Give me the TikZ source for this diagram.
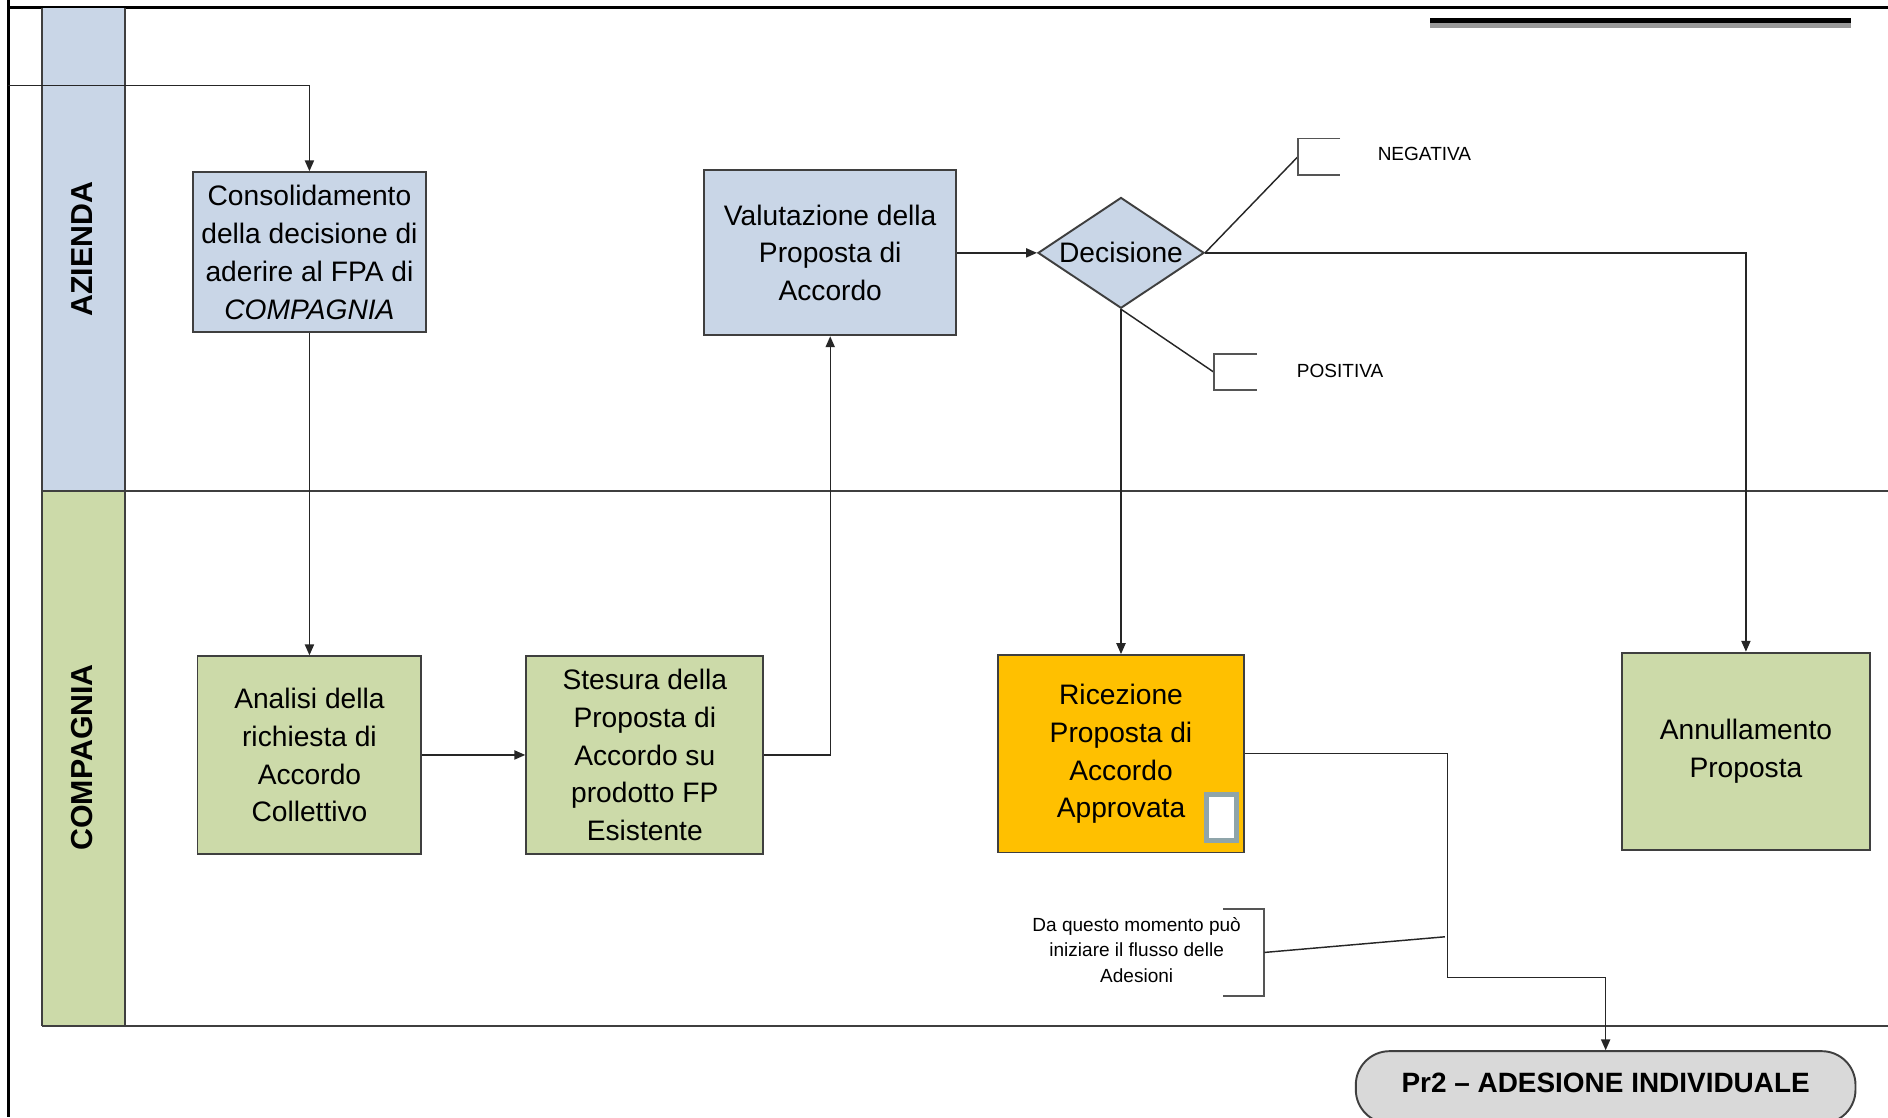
\documentclass[tikz,border=0pt]{standalone}
\usepackage{fontspec}
\setmainfont{Liberation Sans}
\usetikzlibrary{arrows.meta,shapes.geometric}
\definecolor{laneblue}{HTML}{C9D6E7}
\definecolor{lanegreen}{HTML}{CCDAA9}
\definecolor{boxorange}{HTML}{FFC000}
\definecolor{termgray}{HTML}{D9D9D9}
\definecolor{edgegray}{HTML}{3F3F3F}
\definecolor{slotgray}{HTML}{8FA5AA}
\definecolor{notegray}{HTML}{555555}
\begin{document}
\begin{tikzpicture}[x=0.5pt,y=-0.5pt,
  proc/.style={draw=edgegray,line width=0.8pt,inner sep=0pt,align=center,
    font=\fontsize{11.7}{15.75}\selectfont},
  conn/.style={draw=black!85,line width=0.6pt},
  arr/.style={conn,-{Triangle[length=4.5pt,width=3.8pt]}},
  bracket/.style={draw=notegray,line width=0.8pt},
  note/.style={font=\fontsize{7.9}{10.5}\selectfont,align=center,inner sep=0pt},
  lanelabel/.style={rotate=90,font=\bfseries\fontsize{12.6}{14}\selectfont,inner sep=0pt}]
\useasboundingbox (0,0) rectangle (1568,928);
\clip (0,0) rectangle (1568,928);
\fill[white] (0,0) rectangle (1568,928);

% outer frame
\draw[line width=1pt] (7,0) -- (7,928);
\draw[line width=1.1pt] (7,6) -- (1568,6);
% top-right bar
\fill[black] (1188,14.7) rectangle (1537,19.4);
\fill[black!40] (1188,19.4) rectangle (1537,23);

% swimlanes
\fill[laneblue] (35,7) rectangle (104,408);
\fill[lanegreen] (35,408) rectangle (104,852);
\draw[edgegray,line width=0.9pt] (35,7) -- (35,852) (104,7) -- (104,852);
\draw[edgegray,line width=0.9pt] (35,408) -- (1568,408) (35,852) -- (1568,852);
\node[lanelabel] (laneA) at (68,207) {AZIENDA};
\node[lanelabel] (laneC) at (68,629) {COMPAGNIA};

% process nodes
\node[proc,fill=laneblue,minimum width=97pt,minimum height=66.5pt] (cons) at (257,209.5)
  {Consolidamento\\della decisione di\\aderire al FPA di\\\textit{COMPAGNIA}};
\node[proc,fill=lanegreen,minimum width=93pt,minimum height=82pt] (anal) at (257,627)
  {Analisi della\\richiesta di\\Accordo\\Collettivo};
\node[proc,fill=lanegreen,minimum width=98.5pt,minimum height=82pt] (stes) at (535.5,627)
  {Stesura della\\Proposta di\\Accordo su\\prodotto FP\\Esistente};
\node[proc,fill=laneblue,minimum width=104.5pt,minimum height=68.5pt] (valu) at (689.5,210)
  {Valutazione della\\Proposta di\\Accordo};
\node[proc,shape=diamond,fill=laneblue,minimum width=69pt,minimum height=46pt,shape aspect=1.5] (dec) at (931,210)
  {Decisione};
\node[proc,fill=boxorange,minimum width=102.5pt,minimum height=82pt] (ric) at (931,626)
  {Ricezione\\Proposta di\\Accordo\\Approvata};
\draw[slotgray,line width=2pt,fill=white] (1002,660) rectangle (1027,698);
\node[proc,fill=lanegreen,minimum width=103pt,minimum height=82pt] (annu) at (1450,624)
  {Annullamento\\Proposta};
\node[draw=edgegray,line width=0.8pt,fill=termgray,rounded corners=14pt,
  minimum width=207.5pt,minimum height=30pt,inner sep=0pt] (pr2) at (1333.5,903) {};
\node[font=\bfseries\fontsize{11.6}{14}\selectfont] (pr2t) at (1333.5,899) {Pr2 -- ADESIONE INDIVIDUALE};

% connectors
\coordinate (in) at (7,71);
\coordinate (bend) at (1202,812);
\draw[arr] (in) -| (cons.north);
\draw[arr] (cons.south) -- (anal.north);
\draw[arr] (anal.east) -- (stes.west);
\draw[arr] (stes.east) -| (valu.south);
\draw[arr] (valu.east) -- (dec.west);
\draw[arr] (dec.east) -| (annu.north);
\draw[arr] (dec.south) -- (ric.north);
\draw[arr] (ric.east) -| (bend) -| (pr2.north);

% annotations
\coordinate (negb) at (1078,130);
\draw[conn] (dec.east) -- (negb);
\draw[bracket] (1113,115) -- (1078,115) -- (1078,145) -- (1113,145);
\node[note] (neg) at (1183,128) {NEGATIVA};
\coordinate (posb) at (1008,309);
\draw[conn] (dec.south) -- (posb);
\draw[bracket] (1044,294) -- (1008,294) -- (1008,324) -- (1044,324);
\node[note] (pos) at (1113,308) {POSITIVA};
\node[note] (da) at (944,789) {Da questo momento può\\iniziare il flusso delle\\Adesioni};
\draw[bracket] (1016,755) -- (1050,755) -- (1050,827) -- (1016,827);
\coordinate (dab) at (1050,791);
\coordinate (dae) at (1200,778);
\draw[conn] (dab) -- (dae);
\end{tikzpicture}
\end{document}
